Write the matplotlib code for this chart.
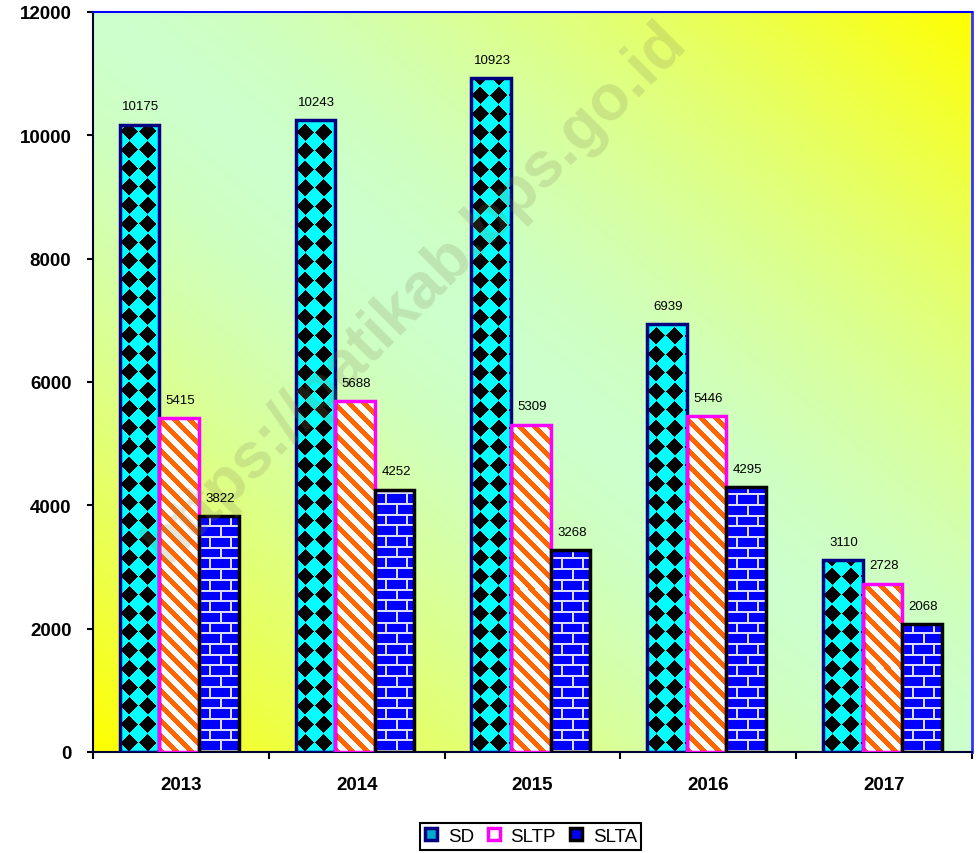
import numpy as np
import matplotlib.pyplot as plt
from matplotlib.lines import Line2D

plt.rcParams['font.family'] = ['Liberation Sans', 'DejaVu Sans']

# data
years = ['2013', '2014', '2015', '2016', '2017']
sd = [10175, 10243, 10923, 6939, 3110]
sltp = [5415, 5688, 5309, 5446, 2728]
slta = [3822, 4252, 3268, 4295, 2068]
names = ['SD', 'SLTP', 'SLTA']

fig = plt.figure(figsize=(9.79, 8.54), dpi=100)
ax = fig.add_axes([0.095, 0.1183, 0.898, 0.8665])
ax.set_xlim(-0.5, 4.5)
ax.set_ylim(0, 12000)
ax.autoscale(False)

# background: green along the diagonal, yellow towards two corners
u = np.linspace(0, 1, 300)[None, :]
v = np.linspace(1, 0, 260)[:, None]
t = np.clip(np.abs(u + v - 1), 0, 1) ** 1.5
green = np.array([204, 255, 204]) / 255
yellow = np.array([255, 255, 0]) / 255
bg = green + (yellow - green) * t[..., None]
ax.imshow(bg, extent=(0, 1, 0, 1), transform=ax.transAxes, aspect='auto',
          zorder=0, interpolation='bilinear')


def pattern(kind, w, h):
    xx = np.arange(w)[None, :] + 0.5
    yy = (h - np.arange(h))[:, None] - 0.5  # measured from the bottom
    img = np.ones((h, w, 3))
    if kind == 'SD':
        P = 18.5
        dx = np.abs((xx % P) - P / 2)
        dy = np.abs((yy % P) - P / 2)
        img[:] = (0, 1, 1)
        img[(dx + dy) < P * 0.47] = 0
    elif kind == 'SLTP':
        S = 15.0
        stripe = ((xx + yy) % S) < S * 0.42
        img[stripe] = (1, 0.4, 0)
    else:
        R, L, m = 10.7, 21.0, 2.0
        row = np.floor(yy / R)
        yin = yy % R
        shift = (row % 2) * L / 2
        mortar = (yin < m) | (((xx + shift) % L) < m)
        img[:] = (0, 0, 1)
        img[np.broadcast_to(mortar, img.shape[:2])] = (0.86, 0.86, 1)
    return img


w = 0.225
offsets = [-w - 0.01, -0.01, w - 0.01]
edges = ['#000080', '#ff00ff', '#000000']
series = [sd, sltp, slta]
x = np.arange(len(years))

for k, (name, vals) in enumerate(zip(names, series)):
    bars = ax.bar(x + offsets[k], vals, width=w, facecolor='none',
                  edgecolor=edges[k], linewidth=2.5, zorder=3 + k * 0.1)
    for b in bars:
        x0, y0 = b.get_x(), b.get_y()
        x1, y1 = x0 + b.get_width(), y0 + b.get_height()
        (px0, py0), (px1, py1) = ax.transData.transform([(x0, y0), (x1, y1)])
        pw = max(int(round(px1 - px0)), 1)
        ph = max(int(round(py1 - py0)), 1)
        ax.imshow(pattern(name, pw, ph), extent=(x0, x1, y0, y1),
                  aspect='auto', zorder=2 + k * 0.1, interpolation='nearest')
    for xi, val in zip(x + offsets[k], vals):
        ax.annotate(str(val), (xi, val), xytext=(1, 9), textcoords='offset points',
                    ha='center', va='bottom', fontsize=9.5, zorder=6)

ax.set_xlim(-0.5, 4.5)
ax.set_ylim(0, 12000)

# watermark
ax.text(0.366, 0.622, 'https://patikab.bps.go.id', transform=ax.transAxes,
        rotation=45, rotation_mode='anchor', ha='center', va='center',
        fontsize=46, fontweight='bold', color='#8a8a60', alpha=0.22, zorder=5)

# axes
ax.set_yticks(np.arange(0, 12001, 2000))
ax.tick_params(axis='y', length=4.5, width=1.5, pad=11, labelsize=13.5)
for lab in ax.get_yticklabels():
    lab.set_fontweight('bold')
ax.set_xticks(x)
ax.set_xticklabels(years, fontweight='bold', fontsize=13.5)
ax.tick_params(axis='x', which='major', length=0, pad=17)
ax.set_xticks(np.arange(-0.5, 5, 1), minor=True)
ax.tick_params(axis='x', which='minor', length=5, width=1.5, direction='out')

ax.spines['left'].set_color('#000033')
ax.spines['bottom'].set_color('#000033')
ax.spines['top'].set_color('#0000ff')
ax.spines['right'].set_color('#3333ff')
for s in ['left', 'bottom', 'top']:
    ax.spines[s].set_linewidth(1.5)
ax.spines['right'].set_linewidth(2)

# legend
handles = [
    Line2D([], [], marker='s', ls='none', markersize=8, markerfacecolor='#00aacc',
           markeredgecolor='#000080', markeredgewidth=2.5),
    Line2D([], [], marker='s', ls='none', markersize=8, markerfacecolor='white',
           markeredgecolor='#ff00ff', markeredgewidth=2.5),
    Line2D([], [], marker='s', ls='none', markersize=8, markerfacecolor='#0000ff',
           markeredgecolor='black', markeredgewidth=2.5),
]
leg = fig.legend(handles, names, loc='center', bbox_to_anchor=(0.542, 0.0195),
                 ncol=3, frameon=True, fancybox=False, edgecolor='black',
                 fontsize=13.5, handlelength=0.7, handletextpad=0.55,
                 columnspacing=0.7, borderpad=0.25, borderaxespad=0)
leg.get_frame().set_linewidth(1.5)
leg.get_frame().set_alpha(1)

fig.savefig('out.png', dpi=100)
